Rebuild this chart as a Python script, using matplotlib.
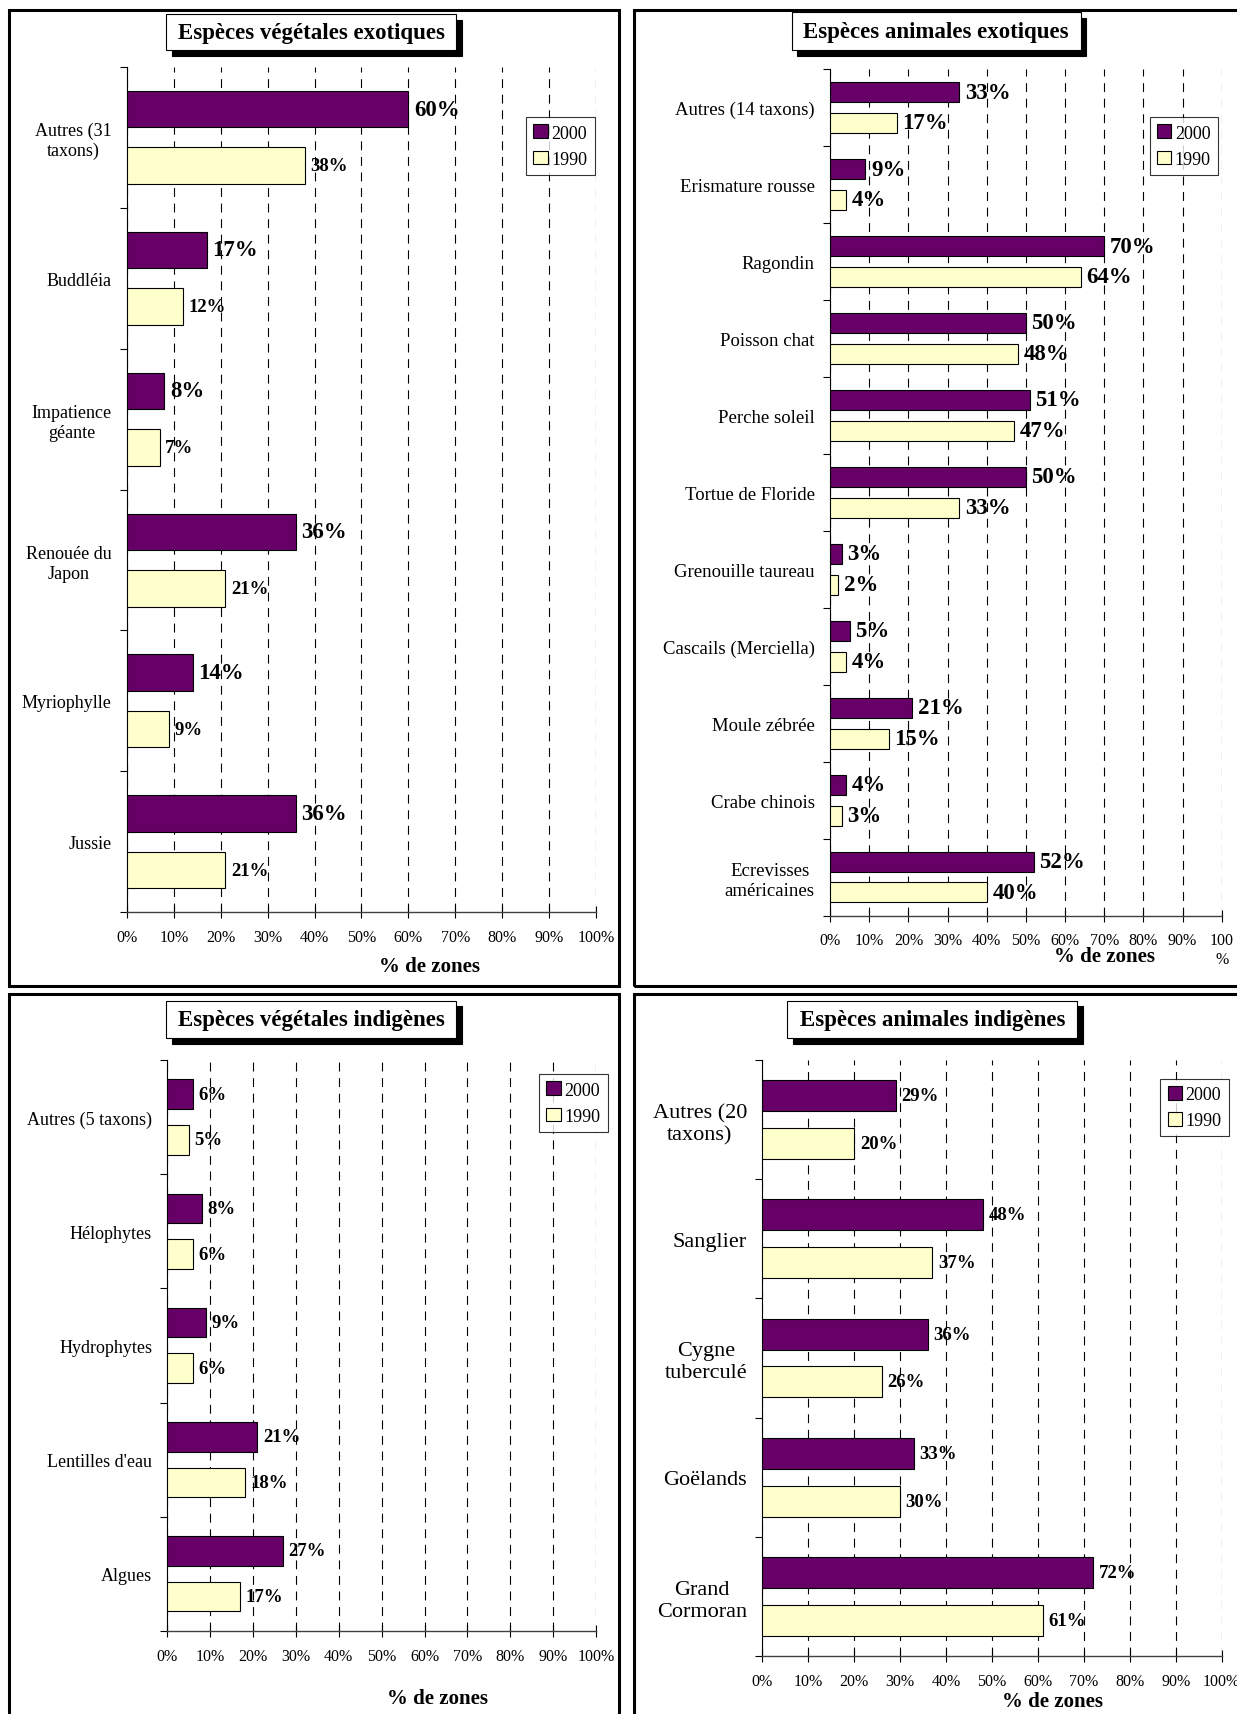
import matplotlib
matplotlib.use('Agg')
import matplotlib.pyplot as plt
from matplotlib.patches import Rectangle

plt.rcParams['font.family'] = ['Liberation Serif', 'DejaVu Serif']

# ---------------- data ----------------
veg_exo_cats = ["Autres (31\ntaxons)", "Buddléia", "Impatience\ngéante",
                "Renouée du\nJapon", "Myriophylle", "Jussie"]
veg_exo_2000 = [60, 17, 8, 36, 14, 36]
veg_exo_1990 = [38, 12, 7, 21, 9, 21]

ani_exo_cats = ["Autres (14 taxons)", "Erismature rousse", "Ragondin", "Poisson chat",
                "Perche soleil", "Tortue de Floride", "Grenouille taureau",
                "Cascails (Merciella)", "Moule zébrée", "Crabe chinois",
                "Ecrevisses\naméricaines"]
ani_exo_2000 = [33, 9, 70, 50, 51, 50, 3, 5, 21, 4, 52]
ani_exo_1990 = [17, 4, 64, 48, 47, 33, 2, 4, 15, 3, 40]

veg_ind_cats = ["Autres (5 taxons)", "Hélophytes", "Hydrophytes", "Lentilles d'eau", "Algues"]
veg_ind_2000 = [6, 8, 9, 21, 27]
veg_ind_1990 = [5, 6, 6, 18, 17]

ani_ind_cats = ["Autres (20\ntaxons)", "Sanglier", "Cygne\ntuberculé", "Goëlands", "Grand\nCormoran"]
ani_ind_2000 = [29, 48, 36, 33, 72]
ani_ind_1990 = [20, 37, 26, 30, 61]

series_names = ["2000", "1990"]
tick_values = list(range(0, 101, 10))
tick_labels = [f"{v}%" for v in tick_values]

# ---------------- layout helpers ----------------
W, H = 1131, 1568
fig = plt.figure(figsize=(12.37, 17.15), dpi=100)


def fx(x):
    return x / W


def fy(y):
    return 1 - y / H


C2000 = '#660066'
C1990 = '#FFFFCC'


def panel(box, title_box, ax_box, legend_xy, xlabel_xy, cats, v2000, v1990, title,
          cat_fs=13, fs2000=16.5, fs1990=12.5, last_tick='100%'):
    x0, y0, x1, y1 = box
    fig.add_artist(Rectangle((fx(x0), fy(y1)), (x1 - x0) / W, (y1 - y0) / H,
                             transform=fig.transFigure, fill=False, lw=2.2, ec='black'))
    tx0, ty0, tx1, ty1 = title_box
    sh = 5
    fig.add_artist(Rectangle((fx(tx0 + sh), fy(ty1 + sh)), (tx1 - tx0) / W, (ty1 - ty0) / H,
                             transform=fig.transFigure, fc='black', ec='black', lw=0.8))
    fig.add_artist(Rectangle((fx(tx0), fy(ty1)), (tx1 - tx0) / W, (ty1 - ty0) / H,
                             transform=fig.transFigure, fc='white', ec='black', lw=0.8))
    fig.text(fx((tx0 + tx1) / 2), fy((ty0 + ty1) / 2), title, ha='center', va='center',
             fontsize=16.5, fontweight='bold')

    ax0, ay0, ax1, ay1 = ax_box
    ax = fig.add_axes([fx(ax0), fy(ay1), (ax1 - ax0) / W, (ay1 - ay0) / H])
    n = len(cats)
    centers = [i + 0.5 for i in range(n)]
    p2000 = [c - 0.2 for c in centers]
    p1990 = [c + 0.2 for c in centers]
    b1 = ax.barh(p2000, v2000, height=0.26, color=C2000, edgecolor='black', lw=0.8,
                 zorder=3, label=series_names[0])
    b2 = ax.barh(p1990, v1990, height=0.26, color=C1990, edgecolor='black', lw=0.8,
                 zorder=3, label=series_names[1])
    ax.bar_label(b1, labels=[f"{v}%" for v in v2000], padding=4, fontsize=fs2000,
                 fontweight='bold')
    ax.bar_label(b2, labels=[f"{v}%" for v in v1990], padding=4, fontsize=fs1990,
                 fontweight='bold')
    ax.set_xlim(0, 100)
    ax.set_ylim(n, 0)
    ax.set_axisbelow(True)
    ax.grid(axis='x', color='black', lw=0.8, linestyle=(0, (8, 6)))
    for s in ['top', 'right']:
        ax.spines[s].set_visible(False)
    ax.spines['left'].set_linewidth(0.8)
    ax.spines['bottom'].set_linewidth(1.0)
    ax.spines['bottom'].set_color('#404040')

    labs = list(tick_labels)
    labs[-1] = last_tick
    ax.set_xticks(tick_values, labels=labs)
    ax.tick_params(axis='x', direction='inout', length=8, width=0.8, pad=8, labelsize=11.5)
    ax.set_yticks(range(n + 1), labels=[''] * (n + 1))
    ax.tick_params(axis='y', which='major', direction='out', length=5, width=0.8)
    ax.set_yticks(centers, labels=cats, minor=True)
    ax.tick_params(axis='y', which='minor', length=0, pad=11, labelsize=cat_fs)
    for t in ax.get_yticklabels(minor=True):
        t.set_multialignment('center')

    leg = ax.legend(handles=[b1, b2], loc='upper left', bbox_to_anchor=(fx(legend_xy[0]), fy(legend_xy[1])),
                    bbox_transform=fig.transFigure, frameon=True, fancybox=False,
                    edgecolor='black', handlelength=0.8, handleheight=0.8, handletextpad=0.2,
                    borderpad=0.4, labelspacing=0.5, fontsize=13, borderaxespad=0)
    leg.get_frame().set_linewidth(0.8)
    fig.text(fx(xlabel_xy[0]), fy(xlabel_xy[1]), "% de zones", ha='center', va='center',
             fontsize=15, fontweight='bold')
    return ax


panel((8, 10, 566, 902), (152, 14, 417, 47), (116, 62, 545, 835), (481, 108), (393, 884),
      veg_exo_cats, veg_exo_2000, veg_exo_1990, "Espèces végétales exotiques",
      cat_fs=13, fs2000=16.5, fs1990=13.5)

panel((580, 10, 1140, 902), (724, 12, 988, 47), (759, 64, 1117, 838), (1051, 108), (1010, 875),
      ani_exo_cats, ani_exo_2000, ani_exo_1990, "Espèces animales exotiques",
      cat_fs=13.5, fs2000=16.5, fs1990=16.5, last_tick='100\n%')

panel((8, 910, 566, 1575), (152, 916, 417, 950), (153, 970, 545, 1492), (493, 983), (400, 1553),
      veg_ind_cats, veg_ind_2000, veg_ind_1990, "Espèces végétales indigènes",
      cat_fs=13, fs2000=13.5, fs1990=13.5)

panel((580, 910, 1140, 1575), (720, 916, 985, 950), (697, 970, 1117, 1515), (1061, 987), (962, 1556),
      ani_ind_cats, ani_ind_2000, ani_ind_1990, "Espèces animales indigènes",
      cat_fs=16, fs2000=13.5, fs1990=13.5)

fig.savefig('out.png', dpi=100)
